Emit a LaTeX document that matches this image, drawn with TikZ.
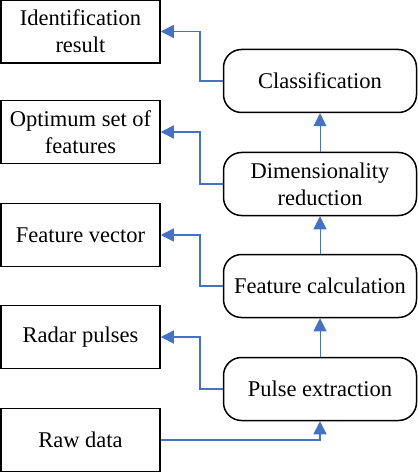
\documentclass[tikz,border=0pt]{standalone}
\usepackage{fontspec}
\setmainfont{Liberation Serif}
\usetikzlibrary{arrows.meta}
\definecolor{conblue}{RGB}{68,114,196}
\begin{document}
\begin{tikzpicture}[x=1pt,y=-1pt,
  databox/.style={draw=black, line width=1.5pt, minimum width=159pt, minimum height=63pt, inner sep=0pt, align=center, font=\fontsize{22.5}{27}\selectfont},
  procbox/.style={draw=black, line width=1.5pt, rounded corners=18pt, minimum width=193pt, minimum height=63pt, inner sep=0pt, align=center, font=\fontsize{22.5}{27}\selectfont},
  conn/.style={draw=conblue, line width=1.5pt, -{Triangle[length=13pt,width=13pt]}},
  connthin/.style={draw=conblue, line width=1pt, -{Triangle[length=13pt,width=13pt]}}]
\useasboundingbox (0,0) rectangle (417,473);
\node[databox] (res) at (80.5,31.5) {Identification\\result};
\node[databox] (opt) at (80.5,132) {Optimum set of\\features};
\node[databox] (fv) at (80.5,235) {Feature vector};
\node[databox] (rp) at (80.5,337) {Radar pulses};
\node[databox] (raw) at (80.5,440) {Raw data};
\node[procbox] (cls) at (320,81) {Classification};
\node[procbox] (dr) at (320,184) {Dimensionality\\reduction};
\node[procbox] (fc) at (320,286) {Feature calculation};
\node[procbox] (pe) at (320,389) {Pulse extraction};
\draw[conn] (cls.west) -- ++(-23,0) |- (res.east);
\draw[conn] (dr.west) -- ++(-23,0) |- (opt.east);
\draw[conn] (fc.west) -- ++(-23,0) |- (fv.east);
\draw[conn] (pe.west) -- ++(-23,0) |- (rp.east);
\draw[conn] (raw.east) -| (pe.south);
\draw[connthin] (pe.north) -- (fc.south);
\draw[connthin] (fc.north) -- (dr.south);
\draw[connthin] (dr.north) -- (cls.south);
\end{tikzpicture}
\end{document}
